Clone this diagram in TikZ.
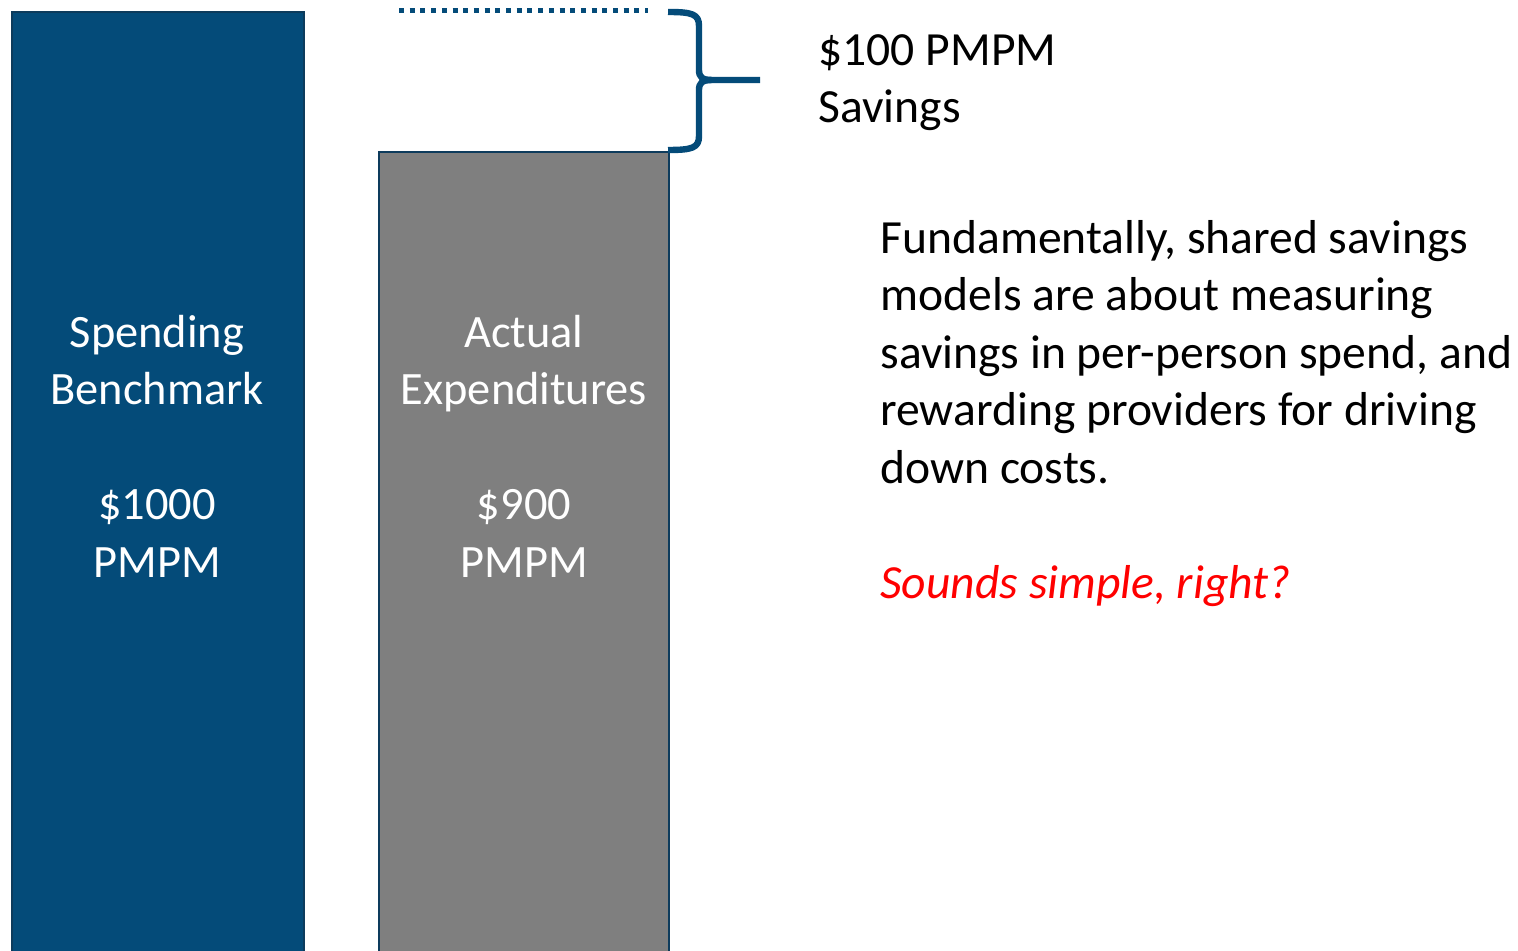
\documentclass[tikz,border=0pt]{standalone}
\usepackage{fontspec}
\setmainfont{Carlito}
\definecolor{barblue}{HTML}{044B79}
\definecolor{baredge}{HTML}{0D3B5C}
\definecolor{bargray}{HTML}{7F7F7F}
\begin{document}
\begin{tikzpicture}[x=0.5pt,y=-0.5pt,
  bar/.style={draw=baredge,line width=1pt,anchor=north west,inner sep=0pt},
  barlabel/.style={text=white,align=center,anchor=base,inner sep=0pt,font=\fontsize{23.2}{28.75}\selectfont},
  note/.style={anchor=base west,align=left,inner sep=0pt,font=\fontsize{23.8}{28.75}\selectfont},
  bracestyle/.style={draw=barblue,line width=3.2pt,line cap=butt,line join=round}]
\useasboundingbox (0,0) rectangle (1518,951);
\clip (0,0) rectangle (1518,951);
% bars
\node[bar,fill=barblue,minimum width=146pt,minimum height=480pt] (bench) at (11,11) {};
\node[bar,fill=bargray,minimum width=145pt,minimum height=410pt] (actual) at (378,151) {};
% labels are placed by the baseline of their last line
\node[barlabel] (benchtxt) at (157,577) {Spending\\Benchmark\\[28.75pt]\$1000\\PMPM};
\node[barlabel] (actualtxt) at (524,577) {Actual\\Expenditures\\[28.75pt]\$900\\PMPM};
% benchmark level
\coordinate (dotl) at (399,11);
\coordinate (dotr) at (648,11);
\draw[draw=barblue,line width=2.5pt,dash pattern=on 2.5pt off 2.85pt] (dotl) -- (dotr);
% savings brace
\coordinate (btop) at (668,12);
\coordinate (bbot) at (668,150);
\coordinate (btip) at (760,80);
\draw[bracestyle] (btop) .. controls (692,12) and (699,14) .. (699,26)
  -- (699,70) .. controls (699,77) and (702,80) .. (712,80) -- (btip);
\draw[bracestyle] (bbot) .. controls (692,150) and (699,148) .. (699,136)
  -- (699,90) .. controls (699,83) and (702,80) .. (712,80);
\node[note] (savings) at (818,123) {\$100 PMPM\\Savings};
\node[note] (para) at (880,483) {Fundamentally, shared savings\\models are about measuring\\savings in per-person spend, and\\rewarding providers for driving\\down costs.};
\node[note,text=red,font=\fontsize{23.8}{28.75}\selectfont\itshape] (quip) at (880,598) {Sounds simple, right?};
\end{tikzpicture}
\end{document}
